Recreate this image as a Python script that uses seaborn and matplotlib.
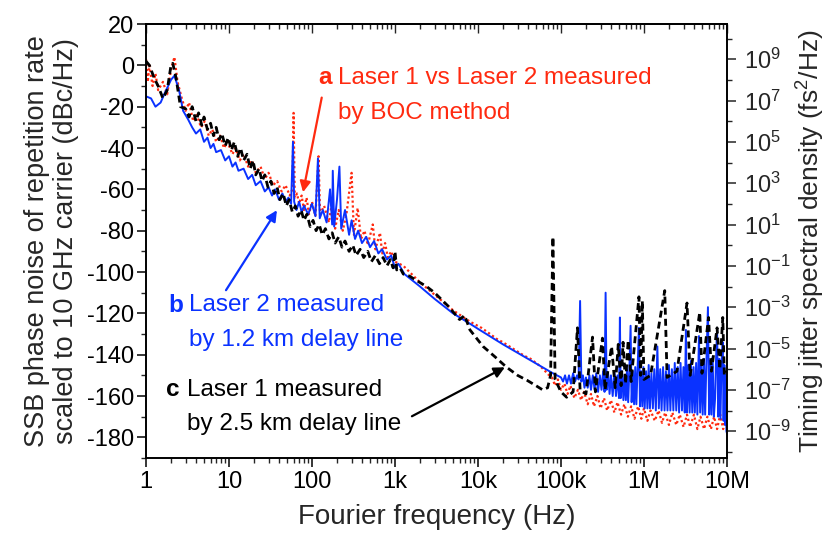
import numpy as np
import matplotlib
matplotlib.use("Agg")
import matplotlib.pyplot as plt
from matplotlib.ticker import FixedLocator, NullFormatter, FuncFormatter
import seaborn as sns

# ---------------------------------------------------------------------------
# DATA  ((frequency in Hz, phase noise in dBc/Hz))
# ---------------------------------------------------------------------------
# a: Laser 1 vs Laser 2, BOC method (red dotted)
red_points = [
    (1.0, 3), (1.05, -8), (1.1, 0), (1.2, -10), (1.3, -4), (1.4, -12), (1.6, -8),
    (1.8, -14), (2.0, -2), (2.2, 4), (2.4, -8), (2.7, -16), (3.0, -22), (3.3, -18),
    (3.7, -27), (4.1, -24), (4.6, -30), (5.1, -27), (5.7, -34), (6.3, -31), (7.0, -37),
    (7.8, -34), (8.7, -40), (9.6, -37), (11, -43), (12, -40), (13.5, -46), (15, -43),
    (17, -49), (19, -46), (21, -52), (24, -49), (27, -55), (30, -52), (34, -58),
    (38, -56), (43, -61), (48, -58), (54, -63), (58, -60), (60, -23), (62, -64),
    (66, -62), (70, -67), (75, -63), (80, -70), (86, -64), (92, -72), (100, -66),
    (110, -73), (120, -44), (125, -72), (140, -68), (160, -76), (175, -65), (190, -79),
    (210, -70), (235, -80), (260, -72), (300, -52), (320, -82), (355, -69), (390, -84),
    (430, -80), (470, -87), (540, -77), (580, -89), (660, -81), (700, -91), (760, -86),
    (820, -93), (900, -90), (1000, -95), (1260, -97), (1500, -100), (2000, -105),
    (3000, -111), (5000, -118.5), (8000, -124),
    (11e3, -127), (14e3, -130), (17e3, -132.5), (20e3, -134), (25e3, -136.5),
    (30e3, -138.5), (36e3, -140.5), (43e3, -142), (50e3, -144), (56e3, -145.5),
    (63e3, -147.5), (70e3, -149.5), (78e3, -151), (85e3, -155), (92e3, -152),
    (100e3, -157), (110e3, -154), (120e3, -159), (130e3, -155), (145e3, -161),
    (160e3, -157), (175e3, -162), (190e3, -158), (210e3, -164), (230e3, -159),
    (250e3, -165), (275e3, -160), (300e3, -166), (330e3, -161), (360e3, -167),
    (400e3, -162), (440e3, -168), (480e3, -163), (530e3, -169), (580e3, -164),
    (640e3, -170), (700e3, -165), (770e3, -171), (850e3, -165), (930e3, -171),
    (1.0e6, -166), (1.1e6, -172), (1.2e6, -167), (1.35e6, -172), (1.5e6, -167),
    (1.65e6, -173), (1.8e6, -168), (2.0e6, -174), (2.2e6, -168), (2.45e6, -174),
    (2.7e6, -169), (3.0e6, -175), (3.3e6, -169), (3.6e6, -175), (4.0e6, -169),
    (4.4e6, -176), (4.8e6, -170), (5.3e6, -176), (5.8e6, -170), (6.4e6, -176),
    (7.0e6, -170), (7.6e6, -176), (8.3e6, -169), (9.0e6, -176), (9.5e6, -171),
    (10e6, -175),
]

# b: Laser 2, 1.2 km delay line (blue solid)
blue_points = [
    (1.0, -15), (1.15, -16), (1.3, -20), (1.5, -18), (1.7, -13), (2.0, -7), (2.2, -5),
    (2.5, -12), (2.8, -22), (3.2, -26), (3.6, -30), (4.0, -33), (4.5, -31), (5.0, -37),
    (5.5, -35), (6.0, -40), (6.5, -38), (7.0, -42), (8.0, -41), (9.0, -46), (10, -44),
    (11, -49), (12, -47), (13, -51), (15, -50), (17, -55), (19, -53), (21, -58),
    (24, -56), (27, -61), (30, -59), (33, -63), (36, -60), (40, -65), (44, -62),
    (48, -66), (52, -64), (56, -67), (59, -37), (61, -66), (65, -70), (70, -66),
    (75, -71), (80, -68), (90, -72), (100, -67), (110, -73), (118, -45), (124, -74),
    (135, -70), (150, -76), (165, -60), (175, -77), (178, -51), (185, -78), (200, -65),
    (214, -49), (225, -79), (250, -70), (280, -82), (300, -75), (330, -84), (360, -80),
    (400, -86), (450, -83), (500, -88), (560, -85), (630, -91), (700, -89), (800, -94),
    (900, -92), (1000, -98), (1100, -96), (1300, -101), (1500, -103), (2000, -107),
    (3000, -113), (5000, -120), (8000, -125), (10e3, -127.5), (20e3, -135),
    (40e3, -142), (80e3, -149),
    (100e3, -151), (106e3, -153), (112e3, -150), (118e3, -154), (125e3, -150),
    (132e3, -154), (140e3, -149), (148e3, -153), (156e3, -150), (163e3, -152),
    (170e3, -114), (176e3, -153), (184e3, -150), (192e3, -156), (200e3, -151),
    (210e3, -156), (220e3, -150), (230e3, -157), (242e3, -150), (254e3, -157),
    (266e3, -149), (280e3, -158), (294e3, -150), (308e3, -157), (322e3, -148),
    (335e3, -158), (345e3, -110), (355e3, -157), (370e3, -149), (385e3, -159),
    (400e3, -150), (420e3, -160), (440e3, -148), (460e3, -160), (480e3, -150),
    (500e3, -161), (513e3, -122), (525e3, -161), (545e3, -148), (565e3, -162),
    (585e3, -150), (605e3, -162), (625e3, -147), (645e3, -163), (665e3, -149),
    (690e3, -126), (710e3, -163), (735e3, -148), (760e3, -164), (785e3, -146),
    (810e3, -164), (835e3, -148), (870e3, -127), (895e3, -165), (925e3, -148),
    (955e3, -165), (985e3, -146), (1.02e6, -166), (1.06e6, -148), (1.10e6, -166),
    (1.14e6, -145), (1.18e6, -166), (1.23e6, -149), (1.28e6, -166), (1.33e6, -147),
    (1.39e6, -167), (1.45e6, -136), (1.51e6, -166), (1.57e6, -147), (1.63e6, -167),
    (1.70e6, -146), (1.77e6, -167), (1.84e6, -148), (1.92e6, -167), (2.0e6, -145),
    (2.08e6, -167), (2.17e6, -147), (2.26e6, -167), (2.35e6, -144), (2.45e6, -167),
    (2.55e6, -146), (2.65e6, -168), (2.76e6, -144), (2.87e6, -167), (2.99e6, -146),
    (3.1e6, -168), (3.2e6, -128), (3.3e6, -168), (3.42e6, -145), (3.55e6, -168),
    (3.68e6, -143), (3.82e6, -168), (3.96e6, -146), (4.1e6, -168), (4.25e6, -144),
    (4.4e6, -169), (4.6e6, -131), (4.75e6, -168), (4.92e6, -144), (5.1e6, -169),
    (5.28e6, -142), (5.46e6, -169), (5.65e6, -144), (5.9e6, -117), (6.1e6, -169),
    (6.3e6, -143), (6.5e6, -169), (6.72e6, -141), (6.95e6, -170), (7.2e6, -161),
    (7.35e6, -145), (7.6e6, -127), (7.85e6, -170), (8.1e6, -142), (8.35e6, -171),
    (8.6e6, -144), (8.9e6, -134), (9.1e6, -172), (9.3e6, -145), (9.5e6, -174),
    (9.7e6, -150), (9.85e6, -177), (10e6, -178),
]

# c: Laser 1, 2.5 km delay line (black dashed)
black_points = [
    (1.0, 2), (1.1, 0), (1.25, -6), (1.4, -10), (1.6, -16), (1.8, -12), (2.0, 0),
    (2.1, 1), (2.3, -6), (2.6, -20), (3.0, -21), (3.3, -25), (3.6, -20), (4.0, -27),
    (4.3, -23), (4.7, -29), (5.0, -25), (5.5, -31), (6.0, -28), (6.5, -34), (7.0, -30),
    (7.6, -36), (8.2, -33), (9.0, -39), (9.8, -35), (10.7, -41), (11.6, -37),
    (12.7, -44), (13.8, -40), (15, -46), (16.5, -43), (18, -50), (19.5, -46), (21, -53),
    (23, -50), (25, -56), (27, -53), (29.5, -59), (32, -56), (35, -62), (38, -59),
    (41, -65), (45, -62), (49, -68), (53, -65), (58, -71), (63, -68), (68, -73),
    (74, -70), (80, -75), (87, -72), (95, -78), (103, -75), (112, -80), (122, -77),
    (133, -82), (145, -79), (160, -84), (175, -81), (190, -86), (210, -83), (230, -88),
    (250, -85), (280, -90), (310, -87), (340, -92), (380, -89), (420, -93), (470, -90),
    (520, -95), (580, -92), (650, -96), (720, -93), (800, -97), (880, -94), (950, -98),
    (1000, -90), (1050, -99), (1150, -98), (1260, -101), (1500, -102), (1800, -104),
    (2400, -107), (3000, -110), (4500, -117), (6000, -123), (6900, -121), (8000, -128),
    (11.5e3, -136), (16e3, -141), (22e3, -146), (30e3, -150), (39e3, -152.4),
    (50e3, -155), (60e3, -157), (69e3, -156), (75e3, -150), (80e3, -83), (85e3, -152),
    (100e3, -158), (117e3, -160.6), (140e3, -158), (158e3, -127), (170e3, -157),
    (200e3, -159), (240e3, -131.5), (260e3, -158), (316e3, -132), (340e3, -157),
    (407e3, -136), (450e3, -156), (490e3, -135), (530e3, -155), (560e3, -134),
    (600e3, -154), (645e3, -133), (700e3, -153), (870e3, -112), (910e3, -150),
    (955e3, -114), (1.0e6, -152), (1.2e6, -150), (1.78e6, -109), (1.9e6, -151),
    (2.5e6, -148), (3.3e6, -115), (3.6e6, -150), (4.7e6, -119.5), (5.0e6, -149),
    (6.0e6, -122), (6.5e6, -148), (7.6e6, -127), (8.2e6, -147), (8.9e6, -122),
    (9.3e6, -150), (10e6, -148),
]

x_ticks = [1, 10, 100, 1e3, 1e4, 1e5, 1e6, 1e7]
x_ticklabels = ["1", "10", "100", "1k", "10k", "100k", "1M", "10M"]
y_ticks = list(range(-180, 21, 20))
jitter_exponents = list(range(-9, 10, 2))

RED = "#ff2a10"
BLUE = "#0a32ff"
BLACK = "#000000"
CARRIER = 10e9   # Hz


def to_jitter(db):
    # dBc/Hz at 10 GHz carrier -> timing jitter PSD in fs^2/Hz
    return 2 * 10 ** (np.asarray(db) / 10.0) / (2 * np.pi * CARRIER) ** 2 * 1e30


# ---------------------------------------------------------------------------
# PLOT
# ---------------------------------------------------------------------------
sns.set_theme(style="ticks")
plt.rcParams["font.family"] = ["Liberation Sans", "DejaVu Sans"]
plt.rcParams["mathtext.fontset"] = "custom"
plt.rcParams["mathtext.rm"] = "Liberation Sans"
plt.rcParams["mathtext.it"] = "Liberation Sans:italic"
plt.rcParams["mathtext.bf"] = "Liberation Sans:bold"
plt.rcParams["axes.unicode_minus"] = False

fig = plt.figure(figsize=(8.31, 5.41), dpi=100)
ax = fig.add_axes([0.1757, 0.1534, 0.6991, 0.8022])

series = [
    (red_points, RED, (0, (1, 1.2)), 1.6),
    (blue_points, BLUE, "-", 1.4),
    (black_points, BLACK, (0, (2.5, 1.5)), 2.0),
]
for pts, col, ls, lw in series:
    f, db = zip(*pts)
    sns.lineplot(x=list(f), y=list(db), ax=ax, color=col, linestyle=ls,
                 linewidth=lw, estimator=None, sort=False)

ax.set_xscale("log")
ax.set_xlim(1, 1e7)
ax.set_ylim(-190, 20)
ax.set_xticks(x_ticks)
ax.set_xticklabels(x_ticklabels)
ax.set_yticks(y_ticks)
ax.yaxis.set_minor_locator(FixedLocator(list(range(-190, 21, 10))))
ax.tick_params(axis="both", which="major", labelsize=17, length=6.5, width=1.1,
               direction="out", colors="black")
ax.tick_params(axis="both", which="minor", length=3.3, width=1.0, direction="out")
ax.tick_params(axis="x", pad=3)
ax.tick_params(axis="y", pad=2)

for sp in ax.spines.values():
    sp.set_color("black")
    sp.set_linewidth(1.2)

# mirrored top axis, ticks pointing in
top = ax.secondary_xaxis("top")
top.set_xticks(x_ticks)
top.tick_params(axis="x", which="both", direction="in", labeltop=False, width=1.0)
top.tick_params(axis="x", which="major", length=6.5)
top.tick_params(axis="x", which="minor", length=3.3)
top.spines["top"].set_linewidth(1.2)

ax.set_xlabel("Fourier frequency (Hz)", fontsize=20, labelpad=8)
ax.set_ylabel("SSB phase noise of repetition rate\nscaled to 10 GHz carrier (dBc/Hz)",
              fontsize=19.5, labelpad=6, linespacing=1.15)

# right axis: timing jitter spectral density
ax2 = ax.twinx()
ax2.set_yscale("log")
ax2.set_ylim(to_jitter(-190), to_jitter(20))
ax2.yaxis.set_major_locator(FixedLocator([10.0 ** k for k in jitter_exponents]))
ax2.yaxis.set_major_formatter(FuncFormatter(
    lambda v, _: "10$^{%d}$" % int(round(np.log10(v)))))
ax2.yaxis.set_minor_locator(FixedLocator([10.0 ** k for k in range(-10, 11, 2)]))
ax2.yaxis.set_minor_formatter(NullFormatter())
ax2.tick_params(axis="y", which="major", labelsize=17, length=6.5, width=1.1,
                direction="out", pad=6)
ax2.tick_params(axis="y", which="minor", length=3.3, width=1.0, direction="out")
ax2.set_ylabel("Timing jitter spectral density (fs$^2$/Hz)", fontsize=19,
               labelpad=3)
for sp in ax2.spines.values():
    sp.set_color("black")
    sp.set_linewidth(1.2)

# annotations (positions in figure pixels of the reference)
W, H = 831.0, 541.0


def ftext(px, py, s, color, bold=False):
    fig.text(px / W, 1 - py / H, s, color=color, fontsize=17.5, va="center",
             ha="left", fontweight="bold" if bold else "normal")


ftext(318, 78, "a", RED, bold=True)
ftext(338, 78, "Laser 1 vs Laser 2 measured", RED)
ftext(338, 113, "by BOC method", RED)
ftext(168, 305, "b", BLUE, bold=True)
ftext(189, 305, "Laser 2 measured", BLUE)
ftext(189, 340, "by 1.2 km delay line", BLUE)
ftext(166, 390, "c", BLACK, bold=True)
ftext(187, 390, "Laser 1 measured", BLACK)
ftext(187, 424, "by 2.5 km delay line", BLACK)

arrows = [((131, -15.6), (78, -61.4), RED),
          ((9.2, -108.8), (37.8, -70.1), BLUE),
          ((1600, -169.8), (21100, -146.1), BLACK)]
for start, tip, col in arrows:
    ax.annotate("", xy=tip, xytext=start,
                arrowprops=dict(arrowstyle="-|>", color=col, lw=1.6,
                                mutation_scale=16, shrinkA=0, shrinkB=0))

fig.savefig("out.png", dpi=100)
